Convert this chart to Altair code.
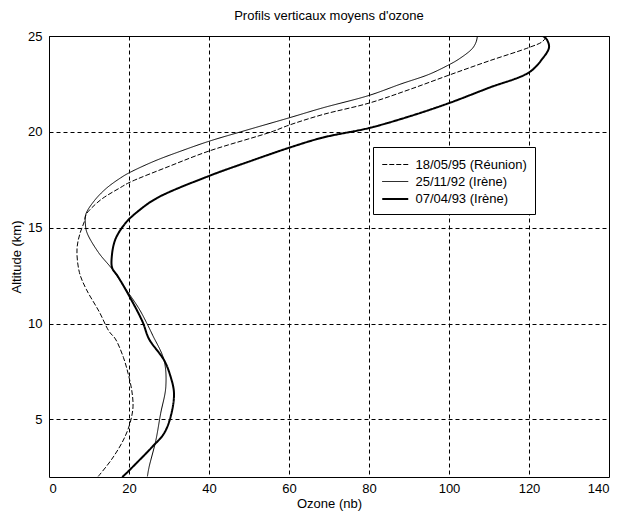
import altair as alt
import pandas as pd

# --- data (altitude km, ozone nb) ---
names = ["18/05/95 (Réunion)", "25/11/92 (Irène)", "07/04/93 (Irène)"]

alt_reu = [2.03, 2.9, 3.93, 4.8, 5.66, 6.5, 7.38, 8.24, 9.2, 9.6, 10.6, 11.8, 12.67, 13.9,
           14.74, 15.3, 15.7, 16.0, 16.5, 17.1, 17.35, 18.2, 19.0, 20.0, 20.35, 20.9, 21.5,
           22.2, 22.96, 23.7, 24.4, 24.7, 25.0]
oz_reu = [12.3, 15.6, 18.6, 20.25, 21.0, 20.7, 19.8, 18.6, 16.6, 15.0, 12.6, 9.3, 7.6, 7.0,
          7.8, 8.8, 9.3, 10.5, 13.2, 17.9, 20.0, 30.0, 40.0, 55.6, 60.0, 68.4, 80.0,
          90.0, 100.0, 110.0, 120.0, 123.3, 124.5]

alt_nov = [2.03, 2.5, 3.9, 5.3, 6.7, 8.1, 9.4, 10.0, 10.78, 11.8, 12.84, 13.7, 14.74, 15.2,
           15.7, 16.4, 17.05, 17.6, 17.86, 18.47, 19.0, 19.51, 20.0, 20.73, 21.25, 21.9,
           22.5, 23.0, 23.5, 23.8, 24.34, 24.7, 25.0]
oz_nov = [24.6, 25.0, 26.7, 27.9, 29.2, 28.75, 25.9, 24.5, 22.5, 19.2, 15.8, 12.4, 9.5, 9.1,
          9.2, 11.3, 14.3, 17.9, 20.0, 26.3, 33.0, 40.0, 47.9, 60.0, 68.4, 80.0,
          88.0, 95.0, 100.0, 102.5, 105.8, 106.8, 107.1]

alt_avr = [2.0, 2.17, 2.69, 3.57, 4.27, 5.14, 6.36, 7.3, 8.1, 9.2, 10.09, 11.46, 12.5, 12.9,
           13.5, 14.4, 15.26, 15.9, 16.55, 17.7, 18.45, 19.17, 19.7, 20.2, 20.8, 21.5,
           22.3, 23.1, 23.8, 24.4, 24.8, 25.0]
oz_avr = [18.3, 19.2, 21.7, 25.8, 28.75, 30.4, 31.25, 30.3, 28.75, 25.0, 23.4, 20.0, 17.1, 15.8,
          15.7, 16.6, 19.2, 22.5, 27.0, 40.0, 50.0, 60.0, 68.4, 80.0, 90.0, 100.0,
          110.0, 120.0, 123.3, 125.0, 124.5, 123.5]

x_ticks = [0, 20, 40, 60, 80, 100, 120, 140]
y_ticks = [5, 10, 15, 20, 25]

rows = []
for nm, a_list, o_list in [(names[0], alt_reu, oz_reu),
                           (names[1], alt_nov, oz_nov),
                           (names[2], alt_avr, oz_avr)]:
    for a, o in zip(a_list, o_list):
        rows.append({"serie": nm, "altitude": a, "ozone": o})
df = pd.DataFrame(rows)

font = "Liberation Sans"

chart = alt.Chart(df).mark_line(interpolate="catmull-rom", clip=True, color="black").encode(
    x=alt.X("ozone:Q", title="Ozone (nb)",
            scale=alt.Scale(domain=[0, 140], nice=False, zero=False),
            axis=alt.Axis(values=x_ticks, format="d")),
    y=alt.Y("altitude:Q", title="Altitude (km)",
            scale=alt.Scale(domain=[2, 25], nice=False, zero=False),
            axis=alt.Axis(values=y_ticks, format="d")),
    order=alt.Order("altitude:Q"),
    detail="serie:N",
    strokeDash=alt.StrokeDash("serie:N", title=None,
                              scale=alt.Scale(domain=names, range=[[5, 2], [1, 0], [1, 0]]),
                              legend=alt.Legend(orient="none", legendX=324, legendY=111)),
    strokeWidth=alt.StrokeWidth("serie:N", title=None,
                                scale=alt.Scale(type="ordinal", domain=names, range=[1.0, 1.0, 2.0])),
).properties(
    width=560, height=441,
    title=alt.Title("Profils verticaux moyens d'ozone", font=font, fontSize=13,
                    fontWeight="normal", color="black", offset=7),
    autosize=alt.AutoSizeParams(type="none"),
    padding={"left": 41, "top": 28, "right": 5, "bottom": 43},
).configure_view(
    stroke="black", strokeWidth=1
).configure_axis(
    grid=True, gridColor="black", gridDash=[4, 3], gridOpacity=1, gridWidth=1,
    domain=False, ticks=False,
    labelFont=font, labelFontSize=13, labelColor="black",
    titleFont=font, titleFontSize=13, titleFontWeight="normal", titleColor="black",
).configure_axisX(
    labelPadding=5, titlePadding=2
).configure_axisY(
    labelPadding=7, titlePadding=4
).configure_legend(
    symbolType="M-1.486,0H1.486", symbolSize=306, symbolStrokeColor="black", symbolOffset=4.25,
    labelFont=font, labelFontSize=13, labelColor="black", labelOffset=10.25,
    strokeColor="black", fillColor="white", padding=8, rowPadding=0,
    cornerRadius=0,
)

chart.save("out.html", embed_options={"renderer": "svg", "actions": False})
